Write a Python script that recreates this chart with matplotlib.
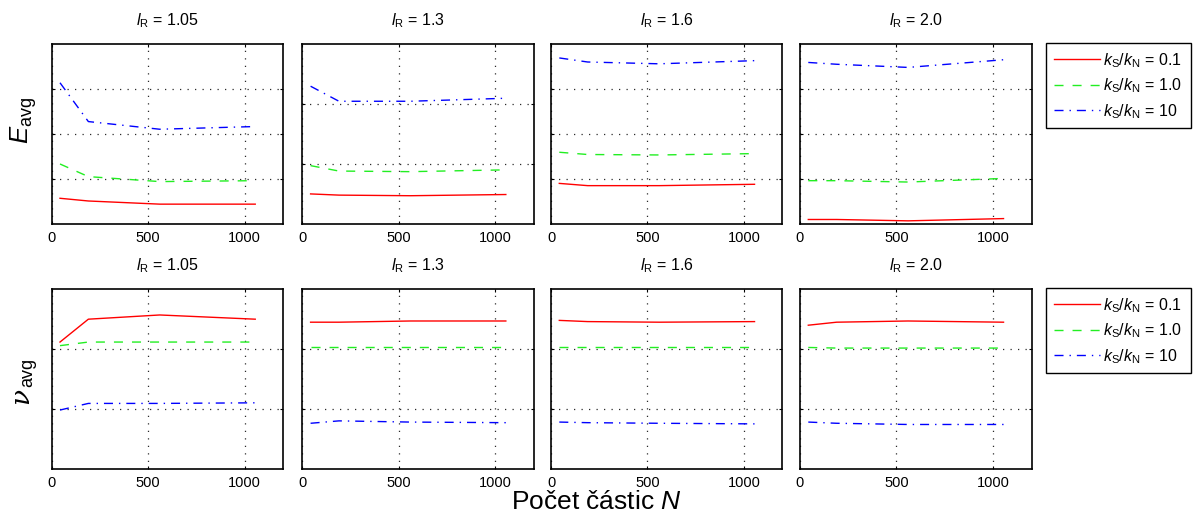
import matplotlib
matplotlib.use("Agg")
import matplotlib.pyplot as plt

plt.rcParams.update({
    "font.family": ["Liberation Sans", "DejaVu Sans"],
    "mathtext.fontset": "custom",
    "mathtext.rm": "Liberation Sans",
    "mathtext.it": "Liberation Sans:italic",
    "mathtext.bf": "Liberation Sans:bold",
    "mathtext.sf": "Liberation Sans",
    "font.size": 11,
})

# ---- data -------------------------------------------------------------
N = [43, 190, 560, 1055]                      # number of particles
lR_labels = ["1.05", "1.3", "1.6", "2.0"]     # l_R value of each column
ratio_labels = ["0.1", "1.0", "10"]           # k_S/k_N of each series

# average energy E_avg, one row per l_R column
E_k01 = [[0.57, 0.51, 0.44, 0.44],
         [0.50, 0.48, 0.47, 0.49],
         [0.90, 0.85, 0.85, 0.88],
         [0.10, 0.10, 0.07, 0.12]]
E_k1 = [[1.33, 1.05, 0.94, 0.96],
        [0.97, 0.88, 0.87, 0.90],
        [1.59, 1.54, 1.53, 1.56],
        [0.96, 0.96, 0.93, 1.01]]
E_k10 = [[3.13, 2.27, 2.10, 2.16],
         [2.29, 2.04, 2.04, 2.09],
         [3.68, 3.59, 3.55, 3.62],
         [3.58, 3.54, 3.47, 3.64]]
E_ytop = [4, 3, 4, 4]

# average coordination nu_avg
nu_k01 = [[2.11, 2.49, 2.56, 2.49],
          [2.44, 2.44, 2.46, 2.46],
          [2.47, 2.45, 2.44, 2.45],
          [2.39, 2.44, 2.46, 2.44]]
nu_k1 = [[2.05, 2.11, 2.11, 2.11],
         [2.03, 2.03, 2.03, 2.03],
         [2.02, 2.02, 2.02, 2.02],
         [2.02, 2.01, 2.01, 2.01]]
nu_k10 = [[0.98, 1.09, 1.09, 1.10],
          [0.76, 0.80, 0.78, 0.77],
          [0.78, 0.77, 0.76, 0.75],
          [0.78, 0.76, 0.74, 0.74]]
nu_ytop = [3, 3, 3, 3]

# ---- styling ----------------------------------------------------------
W, H = 1193, 525
fig = plt.figure(figsize=(W / 100, H / 100), dpi=100)

col_left = [51.7, 302.3, 551.0, 800.0]
row_top = [43.5, 288.5]
ax_w, ax_h = 231.5, 180.5

styles = [
    dict(color="#ff0000", linestyle="-"),
    dict(color="#22ee22", linestyle=(0, (6.5, 6.5))),
    dict(color="#0000ff", linestyle=(0, (6.5, 4.3, 1.0, 4.3))),
]


def make_axes(left, top):
    return fig.add_axes([left / W, 1 - (top + ax_h) / H, ax_w / W, ax_h / H])


def style_axes(ax, ytop):
    ax.set_xlim(0, 1200)
    ax.set_ylim(0, ytop)
    ax.set_xticks([0, 500, 1000])
    ax.set_yticks(range(1, ytop))
    ax.set_yticklabels([])
    ax.grid(True, color="#2a2a2a", linestyle=(0, (1.0, 5.0)), linewidth=0.9)
    ax.tick_params(direction="in", top=True, right=True, length=2.5,
                   width=0.8, labelsize=10.5, pad=5)
    for sp in ax.spines.values():
        sp.set_linewidth(1.2)
        sp.set_color("black")


rows = [
    ([E_k01, E_k1, E_k10], E_ytop),
    ([nu_k01, nu_k1, nu_k10], nu_ytop),
]

handles = None
for r, (series, ytops) in enumerate(rows):
    for c in range(4):
        ax = make_axes(col_left[c], row_top[r])
        lines = []
        for s, st in enumerate(styles):
            (ln,) = ax.plot(N, series[s][c], linewidth=1.0, **st)
            lines.append(ln)
        style_axes(ax, ytops[c])
        ax.text(0.5, 1.1025, r"$\mathit{l}_{\mathrm{R}}$ = " + lR_labels[c],
                transform=ax.transAxes, ha="center", va="baseline",
                fontsize=11.5)
        if handles is None:
            handles = lines

    leg = fig.legend(handles,
                     [r"$\mathit{k}_{\mathrm{S}}/\mathit{k}_{\mathrm{N}}$ = " + t
                      for t in ratio_labels],
                     loc="upper left",
                     bbox_to_anchor=(1046 / W, 1 - (row_top[r] - 0.5) / H,
                                     145 / W, 0),
                     mode="expand", borderaxespad=0, fancybox=False,
                     edgecolor="black", framealpha=1, fontsize=11.5,
                     handlelength=2.9, handletextpad=0.15, labelspacing=0.42,
                     borderpad=0.5)
    leg.get_frame().set_linewidth(1.0)

# y-axis quantity labels
fig.text(23.8 / W, 1 - 120 / H, r"$\mathit{E}_{\mathrm{avg}}$", rotation=90,
         ha="center", va="center", fontsize=18.5)
fig.text(28.5 / W, 1 - 404 / H, "ν", rotation=90, rotation_mode="anchor",
         ha="left", va="baseline", fontsize=19,
         family="DejaVu Serif", style="italic")
fig.text(32.0 / W, 1 - 387 / H, "avg", rotation=90, rotation_mode="anchor",
         ha="left", va="baseline", fontsize=13)

fig.text(0.5, 1 - 509 / H, r"Počet částic $\mathit{N}$", ha="center",
         va="baseline", fontsize=19)

fig.savefig("out.png", dpi=100)
